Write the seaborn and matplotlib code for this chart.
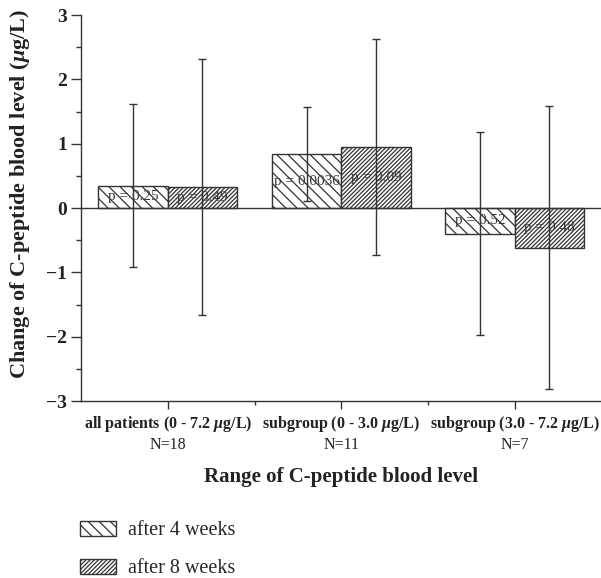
import matplotlib
matplotlib.use("Agg")
import matplotlib.pyplot as plt
import matplotlib.transforms as mtransforms
import seaborn as sns
import pandas as pd
from matplotlib.patches import Patch
from matplotlib.ticker import MultipleLocator

# ------------------ Data ------------------
tick_labels = [r"all patients (0 - 7.2 $\mu$g/L)",
               r"subgroup (0 - 3.0 $\mu$g/L)",
               r"subgroup (3.0 - 7.2 $\mu$g/L)"]
n_labels = ["N=18", "N=11", "N=7"]
periods = ["after 4 weeks", "after 8 weeks"]

change_4w = [0.35, 0.84, -0.40]
change_8w = [0.33, 0.95, -0.62]
sd_4w = [1.26, 0.73, 1.58]
sd_8w = [1.99, 1.68, 2.20]
p_4w = ["p = 0.25", "p = 0.0036", "p = 0.52"]
p_8w = ["p = 0.49", "p = 0.09", "p = 0.48"]

df = pd.DataFrame({
    "group": tick_labels * 2,
    "change": change_4w + change_8w,
    "period": [periods[0]] * 3 + [periods[1]] * 3,
})

# ------------------ Style ------------------
dark = "#333333"
sns.set_theme(style="ticks")
plt.rcParams["font.family"] = ["Liberation Serif", "DejaVu Serif"]
plt.rcParams["mathtext.fontset"] = "custom"
plt.rcParams["mathtext.it"] = "Liberation Serif:italic:bold"
plt.rcParams["mathtext.rm"] = "Liberation Serif:bold"
plt.rcParams["hatch.color"] = dark
plt.rcParams["hatch.linewidth"] = 0.9

fig = plt.figure(figsize=(6.01, 5.78), dpi=100)
ax = fig.add_axes([0.1348, 0.3062, 0.866, 0.6678])

sns.barplot(data=df, x="group", y="change", hue="period",
            palette=["white", "white"], edgecolor=dark, linewidth=1,
            errorbar=None, legend=False, ax=ax)

# sparse backslash for 4 weeks, dense slash for 8 weeks
hatches = ["\\\\\\", "////////"]
for container, hatch, sds, ps in zip(ax.containers, hatches, [sd_4w, sd_8w], [p_4w, p_8w]):
    for bar, sd, p in zip(container, sds, ps):
        bar.set_hatch(hatch)
        x = bar.get_x() + bar.get_width() / 2
        top = bar.get_y() + bar.get_height()
        ax.errorbar(x, top, yerr=sd, color=dark, elinewidth=1,
                    capsize=2.7, capthick=1, zorder=4)
        ax.text(x, top / 2, p, ha="center", va="center",
                fontsize=11, color="#3a3a3a", zorder=5)

ax.axhline(0, color=dark, lw=1, zorder=3)

# ------------------ Axes ------------------
ax.set_ylim(-3, 3)
ax.set_xlim(-0.5, 2.5)
ax.yaxis.set_major_locator(MultipleLocator(1))
ax.yaxis.set_minor_locator(MultipleLocator(0.5))
ax.set_xticks([0, 1, 2])
ax.set_xticks([0.5, 1.5], minor=True)
ax.set_xticklabels(tick_labels, fontweight="bold", fontsize=11.5, color="#222222")
for lab in ax.get_yticklabels():
    lab.set_fontweight("bold")
ax.tick_params(axis="y", which="major", length=7, width=1, color=dark,
               labelsize=14, labelcolor="#222222", pad=3)
ax.tick_params(axis="y", which="minor", length=3.5, width=1, color=dark)
ax.tick_params(axis="x", which="major", length=6, width=1, color=dark, pad=3)
ax.tick_params(axis="x", which="minor", length=3, width=1, color=dark)

sns.despine(ax=ax)
for side in ["left", "bottom"]:
    ax.spines[side].set_color(dark)
    ax.spines[side].set_linewidth(1)

trans = mtransforms.blended_transform_factory(ax.transData, ax.transAxes)
for i, n in enumerate(n_labels):
    ax.text(i, -0.114, n, transform=trans, ha="center", va="center",
            fontsize=11.5, color="#222222")

ax.set_ylabel(r"Change of C-peptide blood level ($\mu$g/L)",
              fontsize=16, fontweight="bold", color="#222222")
ax.yaxis.set_label_coords(-0.095, 0.536)
ax.set_xlabel("Range of C-peptide blood level",
              fontsize=15, fontweight="bold", color="#222222")
ax.xaxis.set_label_coords(0.5, -0.172)

# ------------------ Legend ------------------
handles = [Patch(facecolor="white", edgecolor=dark, hatch=h, linewidth=1) for h in hatches]
fig.legend(handles, periods, loc="upper left", bbox_to_anchor=(0.133, 0.099),
           frameon=False, fontsize=14.5, handlelength=1.79, handleheight=0.8,
           handletextpad=0.6, labelspacing=0.9, borderpad=0, borderaxespad=0)

fig.savefig("out.png", dpi=100)
